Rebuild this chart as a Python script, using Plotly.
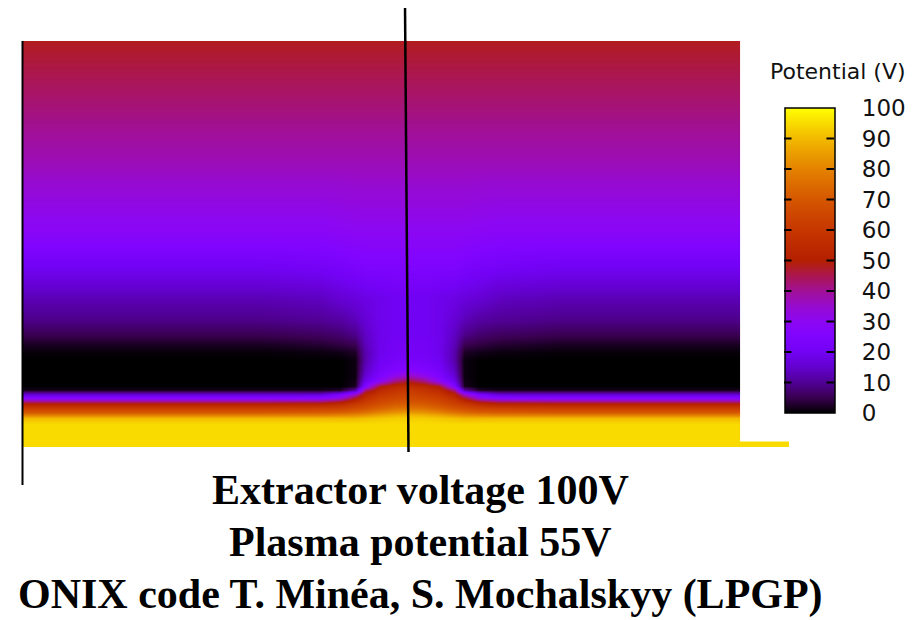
import plotly.graph_objects as go

# ---- data (potential in V) ----
x_mm = [-3.88, -1.5, -0.9, -0.7, -0.55, -0.45, -0.3, -0.15, 0.0,
        0.15, 0.3, 0.45, 0.55, 0.7, 0.9, 1.5, 3.80]
# rows listed from top to bottom (height above the extractor, mm)
y_mm_top_down = [4.06, 3.50, 2.84, 2.17, 1.84, 1.50, 1.27, 1.12, 1.02, 0.95, 0.87, 0.77,
                 0.71, 0.66, 0.61, 0.57, 0.53, 0.49, 0.46, 0.43, 0.39, 0.35, 0.32,
                 0.29, 0.23, 0.00]
potential_top_down = [
    [48, 48, 48, 48, 48, 48, 48, 48, 48, 48, 48, 48, 48, 48, 48, 48, 48],
    [43, 43, 43, 43, 43, 43, 43, 43, 43, 43, 43, 43, 43, 43, 43, 43, 43],
    [37, 37, 37, 37, 37, 37, 37, 37, 37, 37, 37, 37, 37, 37, 37, 37, 37],
    [29, 29, 29, 29.5, 30, 30, 30, 30, 30, 30, 30, 30, 30, 29.5, 29, 29, 29],
    [21, 21, 22, 23, 24, 25, 25, 25, 25, 25, 25, 25, 24, 23, 22, 21, 21],
    [13, 13, 14, 16, 17, 18, 19, 20, 20, 20, 19, 18, 17, 16, 14, 13, 13],
    [9, 9, 10, 11, 13, 16, 19, 20, 20, 20, 19, 16, 13, 11, 10, 9, 9],
    [5, 5, 6, 7, 9, 14, 19, 20, 20, 20, 19, 14, 9, 7, 6, 5, 5],
    [2, 2, 3, 4, 5, 13, 19, 21, 21, 21, 19, 13, 5, 4, 3, 2, 2],
    [0.5, 0.5, 1, 1.5, 2.5, 12, 19, 21, 21, 21, 19, 12, 2.5, 1.5, 1, 0.5, 0.5],
    [0, 0, 0, 0, 1, 12, 20, 22, 23, 22, 20, 12, 1, 0, 0, 0, 0],
    [0, 0, 0, 0, 1, 14, 22, 25, 27, 25, 22, 14, 1, 0, 0, 0, 0],
    [0, 0, 0, 0, 1, 16, 25, 32, 37, 32, 25, 16, 1, 0, 0, 0, 0],
    [0, 0, 0, 0, 1.5, 19, 30, 42, 47, 42, 30, 19, 1.5, 0, 0, 0, 0],
    [0, 0, 0, 0, 2, 26, 48, 54, 57, 54, 48, 26, 2, 0, 0, 0, 0],
    [2, 2, 2, 3, 12, 42, 55, 59, 61, 59, 55, 42, 12, 3, 2, 2, 2],
    [15, 15, 15, 22, 35, 52, 59, 62, 64, 62, 59, 52, 35, 22, 15, 15, 15],
    [28, 28, 29, 34, 48, 57, 63, 65, 67, 65, 63, 57, 48, 34, 29, 28, 28],
    [40, 40, 41, 46, 55, 61, 65, 68, 69, 68, 65, 61, 55, 46, 41, 40, 40],
    [52, 52, 53, 56, 61, 64, 68, 71, 72, 71, 68, 64, 61, 56, 53, 52, 52],
    [62, 62, 63, 64, 67, 69, 73, 76, 77, 76, 73, 69, 67, 64, 63, 62, 62],
    [70, 70, 71, 72, 74, 76, 80, 83, 84, 83, 80, 76, 74, 72, 71, 70, 70],
    [80, 80, 80, 81, 82, 84, 87, 89, 90, 89, 87, 84, 82, 81, 80, 80, 80],
    [90, 90, 90, 90, 90, 91, 92, 93, 93, 93, 92, 91, 90, 90, 90, 90, 90],
    [95, 95, 95, 95, 95, 95, 95, 95, 95, 95, 95, 95, 95, 95, 95, 95, 95],
    [95, 95, 95, 95, 95, 95, 95, 95, 95, 95, 95, 95, 95, 95, 95, 95, 95],
]
tick_values = [0, 10, 20, 30, 40, 50, 60, 70, 80, 90, 100]
tick_labels = ["0", "10", "20", "30", "40", "50", "60", "70", "80", "90", "100"]
caption_lines = ["Extractor voltage 100V",
                 "Plasma potential 55V",
                 "ONIX code T. Minéa, S. Mochalskyy (LPGP)"]
colorbar_title = "Potential (V)"

# ---- style ----
palette = ["#000000", "#39004f", "#510096", "#6301ce", "#7202f3", "#8004ff",
           "#8c07f3", "#970bce", "#a11096", "#ab174f", "#b42000", "#bd2a00",
           "#c63700", "#ce4600", "#d55700", "#dd6c00", "#e48300", "#eb9d00",
           "#f2ba00", "#f9db00", "#ffff00"]
colorscale = [[i / (len(palette) - 1), c] for i, c in enumerate(palette)]

OFF = 8                     # page body margin
W, H = 918 - OFF, 620 - OFF
PL, PR, PT, PB = 22, 790, 41, 447   # plot area in (page) pixels
CB_L, CB_R, CB_T, CB_B = 785, 835, 108, 413   # colour bar box (page pixels)


def px_x(px):
    return (px - PL) / (PR - PL)


def px_y(py):
    return (PB - py) / (PB - PT)


fig = go.Figure()
fig.add_trace(go.Heatmap(
    x=x_mm,
    y=y_mm_top_down[::-1],
    z=potential_top_down[::-1],
    zmin=0, zmax=100,
    zsmooth="best",
    colorscale=colorscale,
    hoverinfo="skip",
    colorbar=dict(
        thickness=CB_R - CB_L, thicknessmode="pixels",
        len=CB_B - CB_T, lenmode="pixels",
        x=px_x(CB_L), xanchor="left", xpad=0,
        y=px_y(CB_T), yanchor="top", ypad=0,
        outlinewidth=1.5, outlinecolor="black",
        tickvals=tick_values, ticktext=tick_labels,
        ticks="outside", ticklen=22, tickcolor="rgba(0,0,0,0)",
        tickfont=dict(family="DejaVu Sans", size=23, color="#111111"),
    ),
))

shapes = [
    # white panel hiding the right part of the map
    dict(type="rect", xref="paper", yref="paper", layer="above",
         x0=px_x(741), x1=px_x(930), y0=px_y(441.5), y1=px_y(-10),
         fillcolor="white", line=dict(width=0)),
    # left frame line
    dict(type="line", xref="paper", yref="paper", layer="above",
         x0=px_x(22.5), x1=px_x(22.5), y0=px_y(41), y1=px_y(485),
         line=dict(color="black", width=2)),
    # central axis line
    dict(type="line", xref="paper", yref="paper", layer="above",
         x0=px_x(405.5), x1=px_x(409), y0=px_y(5), y1=px_y(452),
         line=dict(color="black", width=2.5)),
]

annotations = [
    dict(text=colorbar_title, xref="paper", yref="paper",
         x=px_x(839), y=px_y(72), xanchor="center", yanchor="middle",
         showarrow=False, font=dict(family="DejaVu Sans", size=22, color="#111111")),
]
# inside tick marks on both sides of the colour bar
for v in tick_values[1:-1]:
    py = CB_B - v / 100 * (CB_B - CB_T)
    for xh, dx in ((CB_L, 8), (CB_R, -8)):
        annotations.append(dict(
            text=" ", font=dict(size=1), borderpad=0,
            xref="paper", yref="paper", x=px_x(xh), y=px_y(py),
            showarrow=True, arrowhead=0, arrowwidth=2, arrowcolor="black",
            ax=dx, ay=0, standoff=0, startstandoff=0))

for line, cy in zip(caption_lines, (490, 542, 594)):
    annotations.append(dict(text="<b>" + line + "</b>", xref="paper", yref="paper",
                            x=px_x(421), y=px_y(cy), xanchor="center", yanchor="middle",
                            showarrow=False,
                            font=dict(family="Liberation Serif", size=42, color="black")))

fig.update_layout(
    width=W, height=H,
    margin=dict(l=PL - OFF, r=W - (PR - OFF), t=PT - OFF, b=H - (PB - OFF), pad=0),
    paper_bgcolor="white", plot_bgcolor="white",
    xaxis=dict(range=[-3.88, 3.80], visible=False, fixedrange=True),
    yaxis=dict(range=[0, 4.06], visible=False, fixedrange=True),
    shapes=shapes, annotations=annotations,
    showlegend=False,
)

fig.write_html("out.html")
